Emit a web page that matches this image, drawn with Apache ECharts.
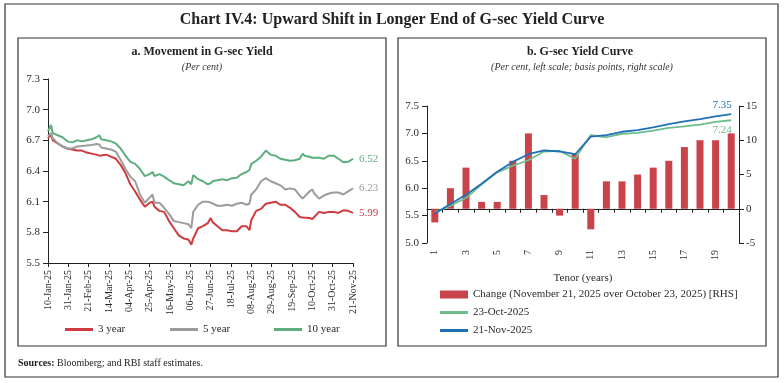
<!DOCTYPE html>
<html><head><meta charset="utf-8">
<script src="https://cdn.jsdelivr.net/npm/echarts@6/dist/echarts.min.js"></script>
<style>html,body{margin:0;padding:0;background:#fff}#c{width:784px;height:383px}</style>
</head><body><div id="c"></div>
<script>
// ---- Panel a: Movement in G-sec Yield ----
const dates = ['2025-01-10','2025-01-13','2025-01-15','2025-01-20','2025-01-25','2025-01-30','2025-02-04','2025-02-09','2025-02-14','2025-02-19','2025-02-24','2025-03-01','2025-03-04','2025-03-06','2025-03-11','2025-03-16','2025-03-21','2025-03-26','2025-03-31','2025-04-05','2025-04-10','2025-04-15','2025-04-20','2025-04-25','2025-04-28','2025-04-30','2025-05-05','2025-05-10','2025-05-15','2025-05-20','2025-05-25','2025-05-30','2025-06-04','2025-06-07','2025-06-09','2025-06-14','2025-06-19','2025-06-24','2025-06-27','2025-06-29','2025-07-04','2025-07-09','2025-07-14','2025-07-19','2025-07-24','2025-07-29','2025-08-03','2025-08-06','2025-08-08','2025-08-13','2025-08-18','2025-08-23','2025-08-28','2025-09-02','2025-09-07','2025-09-12','2025-09-17','2025-09-22','2025-09-27','2025-09-30','2025-10-02','2025-10-07','2025-10-10','2025-10-12','2025-10-17','2025-10-22','2025-10-27','2025-11-01','2025-11-06','2025-11-11','2025-11-16','2025-11-21'];
const yield3 = [6.72,6.76,6.70,6.67,6.64,6.62,6.61,6.60,6.60,6.58,6.57,6.56,6.55,6.54,6.56,6.54,6.52,6.46,6.38,6.27,6.20,6.12,6.05,6.09,6.10,6.05,6.01,6.00,5.91,5.84,5.77,5.74,5.73,5.68,5.74,5.84,5.86,5.89,5.94,5.90,5.86,5.82,5.82,5.81,5.81,5.86,5.86,5.82,5.92,6.01,6.03,6.08,6.09,6.10,6.07,6.07,6.04,6.00,5.95,5.945,5.94,5.94,5.93,5.93,6.00,5.99,6.00,6.00,5.99,6.015,6.01,5.99];
const yield5 = [6.74,6.77,6.72,6.67,6.64,6.62,6.62,6.64,6.645,6.65,6.655,6.665,6.66,6.63,6.62,6.61,6.59,6.51,6.42,6.345,6.30,6.17,6.09,6.14,6.17,6.09,6.09,6.04,5.98,5.91,5.90,5.89,5.88,5.84,6.00,6.07,6.10,6.10,6.09,6.09,6.06,6.06,6.07,6.06,6.08,6.09,6.07,6.08,6.17,6.22,6.30,6.33,6.30,6.28,6.26,6.22,6.23,6.22,6.16,6.13,6.12,6.20,6.22,6.18,6.13,6.16,6.18,6.19,6.19,6.17,6.20,6.23];
const yield10 = [6.79,6.85,6.77,6.75,6.73,6.69,6.68,6.70,6.69,6.70,6.71,6.73,6.75,6.71,6.70,6.69,6.67,6.62,6.55,6.49,6.47,6.42,6.35,6.37,6.39,6.35,6.37,6.345,6.31,6.28,6.27,6.26,6.30,6.27,6.36,6.32,6.30,6.27,6.28,6.30,6.31,6.32,6.31,6.33,6.335,6.37,6.39,6.41,6.47,6.50,6.54,6.60,6.56,6.55,6.52,6.51,6.50,6.505,6.52,6.57,6.55,6.54,6.53,6.52,6.53,6.52,6.55,6.55,6.52,6.485,6.49,6.52];
const dateTickLabels = ['10-Jan-25','31-Jan-25','21-Feb-25','14-Mar-25','04-Apr-25','25-Apr-25','16-May-25','06-Jun-25','27-Jun-25','18-Jul-25','08-Aug-25','29-Aug-25','19-Sep-25','10-Oct-25','31-Oct-25','21-Nov-25'];

// ---- Panel b: G-sec Yield Curve ----
const tenors = ['1','2','3','4','5','6','7','8','9','10','11','12','13','14','15','16','17','18','19','20'];
const changeBps = [-2,3,6,1,1,7,11,2,-1,8,-3,4,4,5,6,7,9,10,10,11];
const curveOct23 = [5.56,5.68,5.82,6.07,6.29,6.41,6.51,6.67,6.68,6.54,6.97,6.93,6.99,7.01,7.05,7.10,7.13,7.16,7.21,7.24];
const curveNov21 = [5.54,5.71,5.88,6.08,6.30,6.48,6.62,6.69,6.67,6.62,6.94,6.97,7.03,7.06,7.11,7.17,7.22,7.26,7.31,7.35];

const FONT = '"Liberation Serif", "DejaVu Serif", serif';
const TXT = '#2b2b2b';
const base = Date.UTC(2025,0,10);
const dayOf = s => Math.round((Date.parse(s + 'T00:00:00Z') - base) / 86400000);
const pts = arr => dates.map((d,i) => [dayOf(d), arr[i]]);

const cRed = '#CF3B3F', cGray = '#9C9C9C', cGreen = '#5DAE7F';
const cBlue = '#2170B6', cGreen2 = '#6CBD8C', cBar = '#C9434A';

const chart = echarts.init(document.getElementById('c'), null, {renderer:'canvas'});
const endMark = (arr, pos, color) => ({
  symbol: 'circle', symbolSize: 2, silent: true,
  itemStyle: {color: 'rgba(0,0,0,0)'},
  label: {show: true, position: pos, distance: 3, offset: [-9, 0], color: color, fontFamily: FONT, fontSize: 11,
          formatter: p => Number(p.value).toFixed(2)},
  data: [{coord: [tenors[arr.length-1], arr[arr.length-1]], value: arr[arr.length-1]}]
});

const bandLegend = (name, left, top, h) => ({
  data: [{name: name, icon: 'rect'}], left: left, top: top, itemWidth: 28, itemHeight: h,
  selectedMode: false, textStyle: {fontFamily: FONT, fontSize: 11, color: TXT}, itemGap: 4, padding: 0
});

chart.setOption({
  animation: false,
  backgroundColor: '#fff',
  textStyle: {fontFamily: FONT},
  grid: [
    {left: 48, right: 431, top: 79, bottom: 120},
    {left: 427, right: 45, top: 106, bottom: 140}
  ],
  xAxis: [
    {type: 'value', gridIndex: 0, min: 0, max: 315, interval: 21,
     axisLine: {lineStyle: {color: '#222', width: 1}},
     axisTick: {show: true, length: 4, lineStyle: {color: '#222'}},
     splitLine: {show: false},
     axisLabel: {rotate: 90, margin: 7, fontSize: 10, color: TXT, fontFamily: FONT,
       formatter: v => dateTickLabels[Math.round(v/21)] || ''}},
    {type: 'category', gridIndex: 1, data: tenors, boundaryGap: true,
     axisLine: {lineStyle: {color: '#222', width: 1}},
     axisTick: {show: true, interval: 0, length: 4, lineStyle: {color: '#222'}},
     axisLabel: {interval: 1, rotate: 90, margin: 7, fontSize: 10, color: TXT, fontFamily: FONT},
     name: 'Tenor (years)', nameLocation: 'middle', nameGap: 30,
     nameTextStyle: {fontSize: 11, color: TXT, fontFamily: FONT}}
  ],
  yAxis: [
    {type: 'value', gridIndex: 0, min: 5.5, max: 7.3, interval: 0.3,
     axisLine: {show: true, lineStyle: {color: '#222'}},
     axisTick: {show: true, length: 5, lineStyle: {color: '#222'}},
     splitLine: {show: false},
     axisLabel: {margin: 8, fontSize: 11, color: TXT, fontFamily: FONT, formatter: v => v.toFixed(1)}},
    {type: 'value', gridIndex: 1, min: 5.0, max: 7.5, interval: 0.5,
     axisLine: {show: true, lineStyle: {color: '#222'}},
     axisTick: {show: true, length: 5, lineStyle: {color: '#222'}},
     splitLine: {show: false},
     axisLabel: {margin: 8, fontSize: 11, color: TXT, fontFamily: FONT, formatter: v => v.toFixed(1)}},
    {type: 'value', gridIndex: 1, position: 'right', min: -5, max: 15, interval: 5,
     axisLine: {show: true, lineStyle: {color: '#222'}},
     axisTick: {show: true, length: 5, lineStyle: {color: '#222'}},
     splitLine: {show: false},
     axisLabel: {margin: 7, fontSize: 11, color: TXT, fontFamily: FONT}}
  ],
  legend: [
    bandLegend('3 year', 65, 324, 3),
    bandLegend('5 year', 170, 324, 3),
    bandLegend('10 year', 274, 324, 3),
    bandLegend('Change (November 21, 2025 over October 23, 2025) [RHS]', 440, 289, 8),
    bandLegend('23-Oct-2025', 440, 307, 3),
    bandLegend('21-Nov-2025', 440, 325, 3)
  ],
  series: [
    {name: '3 year', type: 'line', xAxisIndex: 0, yAxisIndex: 0, data: pts(yield3), symbol: 'none',
     lineStyle: {color: cRed, width: 2}, itemStyle: {color: cRed},
     endLabel: {show: true, distance: 6, color: cRed, fontSize: 11, fontFamily: FONT, formatter: p => p.value[1].toFixed(2)}},
    {name: '5 year', type: 'line', xAxisIndex: 0, yAxisIndex: 0, data: pts(yield5), symbol: 'none',
     lineStyle: {color: cGray, width: 2}, itemStyle: {color: cGray},
     endLabel: {show: true, distance: 6, color: cGray, fontSize: 11, fontFamily: FONT, formatter: p => p.value[1].toFixed(2)}},
    {name: '10 year', type: 'line', xAxisIndex: 0, yAxisIndex: 0, data: pts(yield10), symbol: 'none',
     lineStyle: {color: cGreen, width: 2}, itemStyle: {color: cGreen},
     endLabel: {show: true, distance: 6, color: cGreen, fontSize: 11, fontFamily: FONT, formatter: p => p.value[1].toFixed(2)}},
    {name: 'Change (November 21, 2025 over October 23, 2025) [RHS]', type: 'bar', xAxisIndex: 1, yAxisIndex: 2,
     data: changeBps, barWidth: 7, itemStyle: {color: cBar}},
    {name: '23-Oct-2025', type: 'line', xAxisIndex: 1, yAxisIndex: 1, data: curveOct23,
     symbol: 'none', lineStyle: {color: cGreen2, width: 1.8}, itemStyle: {color: cGreen2},
     markPoint: endMark(curveOct23, 'bottom', cGreen2)},
    {name: '21-Nov-2025', type: 'line', xAxisIndex: 1, yAxisIndex: 1, data: curveNov21,
     symbol: 'none', lineStyle: {color: cBlue, width: 1.8}, itemStyle: {color: cBlue},
     markPoint: endMark(curveNov21, 'top', cBlue)}
  ],
  graphic: [
    {type: 'rect', shape: {x: 5, y: 4, width: 773, height: 373}, style: {fill: 'none', stroke: '#333', lineWidth: 1.2}, silent: true},
    {type: 'rect', shape: {x: 18, y: 38, width: 368, height: 308}, style: {fill: 'none', stroke: '#333', lineWidth: 1.2}, silent: true},
    {type: 'rect', shape: {x: 398, y: 38, width: 368, height: 308}, style: {fill: 'none', stroke: '#333', lineWidth: 1.2}, silent: true},
    {type: 'text', x: 392, y: 20, style: {text: 'Chart IV.4: Upward Shift in Longer End of G-sec Yield Curve', fontFamily: FONT, fontSize: 16, fontWeight: 'bold', fill: '#222', align: 'center', verticalAlign: 'middle'}},
    {type: 'text', x: 202, y: 52, style: {text: 'a. Movement in G-sec Yield', fontFamily: FONT, fontSize: 12, fontWeight: 'bold', fill: '#222', align: 'center', verticalAlign: 'middle'}},
    {type: 'text', x: 202, y: 67, style: {text: '(Per cent)', fontFamily: FONT, fontSize: 10, fontStyle: 'italic', fill: '#333', align: 'center', verticalAlign: 'middle'}},
    {type: 'text', x: 580, y: 52, style: {text: 'b. G-sec Yield Curve', fontFamily: FONT, fontSize: 12, fontWeight: 'bold', fill: '#222', align: 'center', verticalAlign: 'middle'}},
    {type: 'text', x: 582, y: 67, style: {text: '(Per cent, left scale; basis points, right scale)', fontFamily: FONT, fontSize: 10, fontStyle: 'italic', fill: '#333', align: 'center', verticalAlign: 'middle'}},
    {type: 'text', x: 18, y: 363, style: {text: '{b|Sources:} Bloomberg; and RBI staff estimates.', fontFamily: FONT, fontSize: 10, fill: '#222', verticalAlign: 'middle',
      rich: {b: {fontFamily: FONT, fontSize: 10, fontWeight: 'bold', fill: '#222'}}}}
  ]
});
</script></body></html>
